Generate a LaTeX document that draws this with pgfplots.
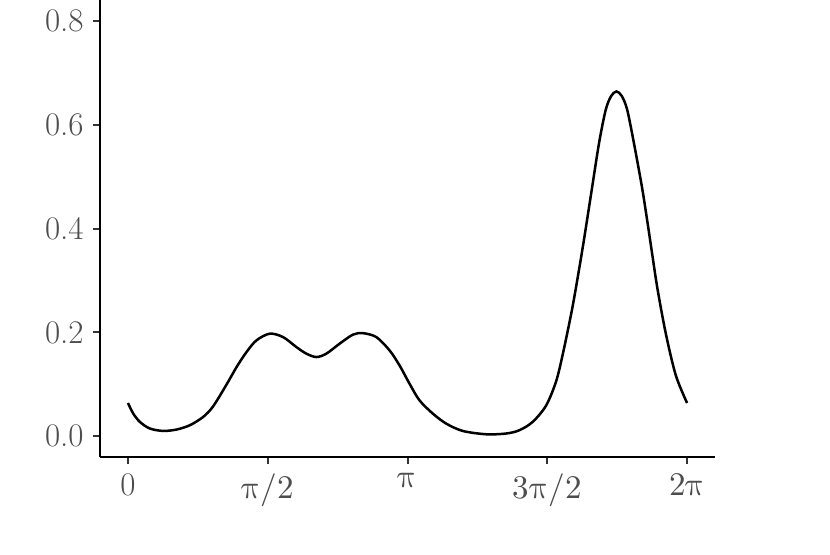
\documentclass[border=0pt]{standalone}
\usepackage{unicode-math}
\setmathfont{Latin Modern Math}
\usepackage{pgfplots}
\pgfplotsset{compat=1.18}
\definecolor{tickgray}{HTML}{4D4D4D}
\definecolor{tickmark}{HTML}{333333}

\begin{document}
\begin{tikzpicture}
\path[use as bounding box] (-50pt,-48.5pt) rectangle (365pt,228.5pt);
\begin{axis}[at={(0,0)},anchor=south west,scale only axis,
    width=307.5pt,height=228.5pt,
    xmin=-0.3142,xmax=6.5973,ymin=-0.04,ymax=0.84,
    axis lines=left,axis line style={-,line width=1.2pt,black},
    xtick={0,1.5708,3.1416,4.7124,6.2832},
    xticklabels={0,$\uppi/2$,$\uppi$,$3\uppi/2$,$2\uppi$},
    ytick={0,0.2,0.4,0.6,0.8},
    yticklabels={0.0,0.2,0.4,0.6,0.8},
    tick align=outside,major tick length=3.5pt,
    tick style={line width=1pt,tickmark},
    ticklabel style={font=\fontsize{16.5}{19}\selectfont,text=tickgray},
    xticklabel style={inner sep=0pt,anchor=north,yshift=-4.5pt},
    yticklabel style={inner sep=0pt,anchor=east,xshift=-4.5pt},
    clip=false]
\addplot[black,line width=1.25pt,smooth] coordinates {
(0,0.064) (0.0595,0.0437) (0.1346,0.0275) (0.2468,0.0148) (0.396,0.0102)
(0.5464,0.0129) (0.6956,0.0212) (0.8448,0.0371) (0.957,0.0575) (1.1074,0.0994)
(1.2196,0.1329) (1.3318,0.1621) (1.444,0.1846) (1.5932,0.1975) (1.7424,0.191)
(1.8928,0.1717) (2.005,0.159) (2.1171,0.1525) (2.2293,0.159) (2.3786,0.1782)
(2.5278,0.1956) (2.64,0.1985) (2.7904,0.191) (2.9396,0.1654) (3.0518,0.1365)
(3.164,0.1013) (3.2761,0.0692) (3.4253,0.0437) (3.5757,0.0244) (3.762,0.0102)
(4.0245,0.0038) (4.2489,0.0052) (4.3981,0.0115) (4.5473,0.0275) (4.6976,0.0586)
(4.8098,0.1047) (4.8839,0.156) (4.996,0.249) (5.1083,0.361) (5.2025,0.464)
(5.2956,0.566) (5.37,0.629) (5.43,0.655) (5.49,0.664) (5.55,0.655)
(5.61,0.629) (5.6844,0.566) (5.7775,0.4788) (5.84,0.41) (5.8869,0.356)
(5.9497,0.285) (6.044,0.198) (6.1562,0.1176) (6.2832,0.064)
};
\end{axis}
\end{tikzpicture}
\end{document}
